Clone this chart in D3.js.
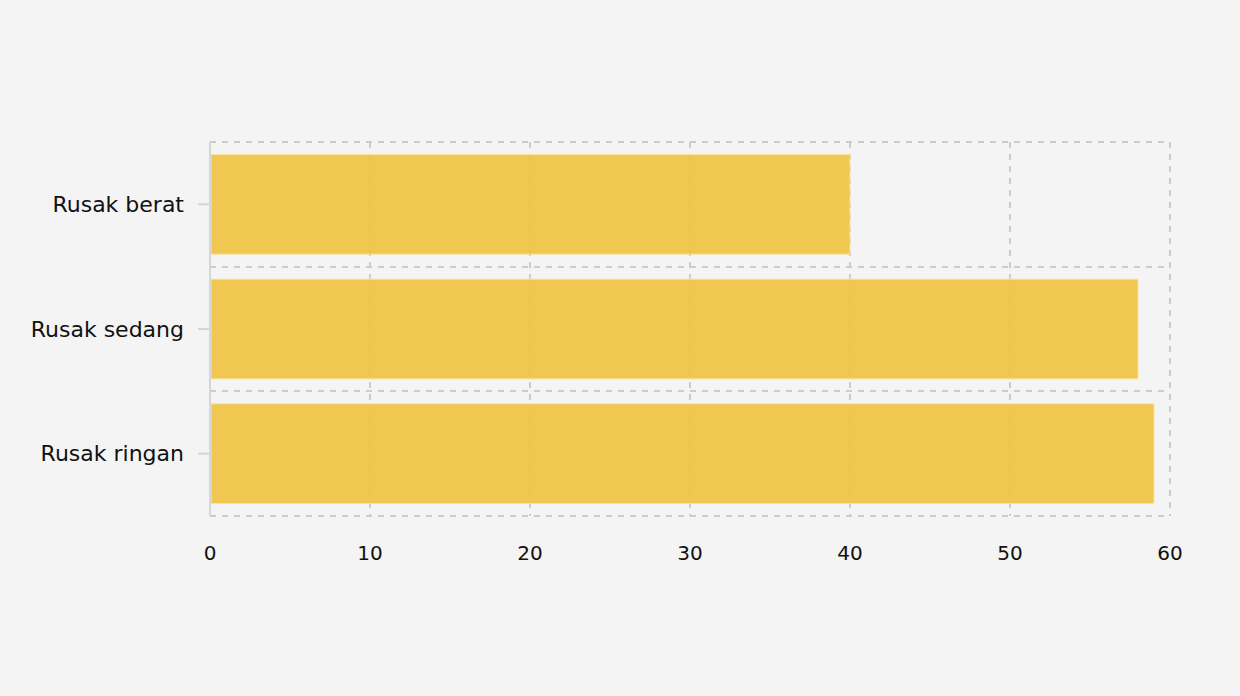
<!DOCTYPE html>
<html><head><meta charset="utf-8">
<script src="https://cdn.jsdelivr.net/npm/d3@7"></script>
<style>html,body{margin:0;padding:0;background:#f4f4f4;}svg{display:block;}</style>
</head><body>
<script>
const categories = ["Rusak berat", "Rusak sedang", "Rusak ringan"];
const values = [40, 58, 59];
const xTicks = [0, 10, 20, 30, 40, 50, 60];

const W = 1240, H = 696;
const m = {left: 210, right: 70, top: 142, bottom: 180};
const svg = d3.select("body").append("svg").attr("width", W).attr("height", H)
  .style("font-family", "'DejaVu Sans', Verdana, sans-serif");
svg.append("rect").attr("width", W).attr("height", H).attr("fill", "#f4f4f4");

const x = d3.scaleLinear().domain([0, 60]).range([m.left, W - m.right]);
const y = d3.scaleBand().domain(categories).range([m.top, H - m.bottom]).paddingInner(0).paddingOuter(0);
const grid = "#cccccc";

// vertical grid lines
svg.append("g").selectAll("line").data(xTicks).join("line")
  .attr("x1", d => x(d)).attr("x2", d => x(d))
  .attr("y1", m.top).attr("y2", H - m.bottom)
  .attr("stroke", grid).attr("stroke-width", 2).attr("stroke-dasharray", "6,6");

// horizontal band lines
const bounds = categories.map(c => y(c)).concat([y(categories[categories.length-1]) + y.bandwidth()]);
svg.append("g").selectAll("line").data(bounds).join("line")
  .attr("x1", m.left).attr("x2", W - m.right)
  .attr("y1", d => Math.round(d)).attr("y2", d => Math.round(d))
  .attr("stroke", grid).attr("stroke-width", 2).attr("stroke-dasharray", "6,6");

// bars
const pad = y.bandwidth() * 0.1;
svg.append("g").selectAll("rect").data(values).join("rect")
  .attr("x", x(0) + 1)
  .attr("y", (d, i) => y(categories[i]) + pad)
  .attr("width", d => x(d) - x(0) - 1)
  .attr("height", y.bandwidth() - 2 * pad)
  .attr("fill", "#f0c23e").attr("fill-opacity", 0.9)
  .attr("stroke", "#f7e3a8").attr("stroke-width", 1);

// y axis line
svg.append("line").attr("x1", m.left).attr("x2", m.left)
  .attr("y1", m.top).attr("y2", H - m.bottom).attr("stroke", "#d6d6d6").attr("stroke-width", 2);

// y ticks and labels
const yl = svg.append("g");
categories.forEach(c => {
  const cy = y(c) + y.bandwidth() / 2;
  yl.append("line").attr("x1", m.left - 12).attr("x2", m.left).attr("y1", cy).attr("y2", cy)
    .attr("stroke", "#d6d6d6").attr("stroke-width", 2);
  yl.append("text").attr("x", m.left - 26).attr("y", cy).attr("dy", "0.35em")
    .attr("text-anchor", "end").attr("font-size", 22).attr("fill", "#111").text(c);
});

// x labels
svg.append("g").selectAll("text").data(xTicks).join("text")
  .attr("x", d => x(d)).attr("y", 553).attr("dy", "0.35em")
  .attr("text-anchor", "middle").attr("font-size", 20).attr("fill", "#111").text(d => d);
</script>
</body></html>
